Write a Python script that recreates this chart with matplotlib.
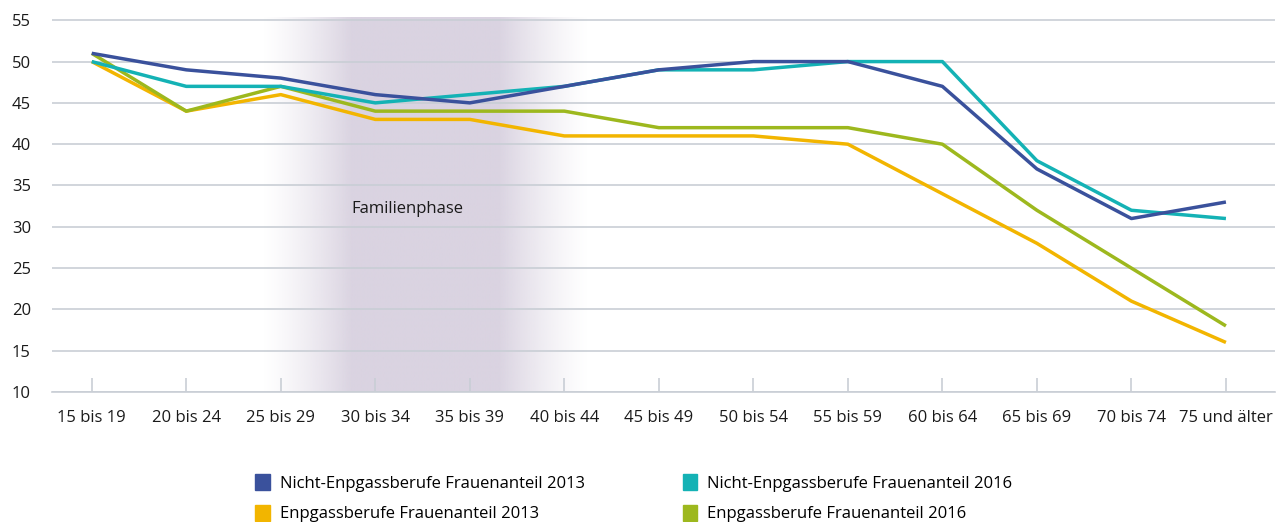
import numpy as np
import matplotlib
matplotlib.use("Agg")
import matplotlib.pyplot as plt
from matplotlib.colors import to_rgb
from matplotlib.patches import Patch

plt.rcParams['font.family'] = ['Open Sans', 'DejaVu Sans']

# data
kategorien = ["15 bis 19", "20 bis 24", "25 bis 29", "30 bis 34", "35 bis 39", "40 bis 44",
              "45 bis 49", "50 bis 54", "55 bis 59", "60 bis 64", "65 bis 69", "70 bis 74",
              "75 und älter"]
nicht_2013 = [51, 49, 48, 46, 45, 47, 49, 50, 50, 47, 37, 31, 33]
nicht_2016 = [50, 47, 47, 45, 46, 47, 49, 49, 50, 50, 38, 32, 31]
enp_2013 = [50, 44, 46, 43, 43, 41, 41, 41, 40, 34, 28, 21, 16]
enp_2016 = [51, 44, 47, 44, 44, 44, 42, 42, 42, 40, 32, 25, 18]
y_ticks = [10, 15, 20, 25, 30, 35, 40, 45, 50, 55]

c_blau = "#3A519C"
c_tuerkis = "#14B2B5"
c_gelb = "#F2B500"
c_gruen = "#9DB81E"
c_grid = "#C9CED5"

fig = plt.figure(figsize=(12.82, 5.22), dpi=100)
ax = fig.add_axes([0.0406, 0.249, 0.954, 0.7185])

x = np.arange(len(kategorien))

# Familienphase shading (gradient)
xs = np.linspace(1.8, 5.25, 400)
alpha = np.clip(np.minimum((xs - 1.8) / 0.95, (5.25 - xs) / 0.95), 0, 1)
alpha = alpha ** 1.3
img = np.zeros((1, len(xs), 4))
img[0, :, :3] = to_rgb("#DAD3E1")
img[0, :, 3] = alpha
ax.imshow(img, extent=[1.8, 5.25, 10, 55.4], aspect='auto', zorder=0, interpolation='bilinear')
ax.text(3.34, 32.1, "Familienphase", ha='center', va='center', fontsize=12, color="#1a1a1a")

l1, = ax.plot(x, nicht_2013, color=c_blau, lw=2.5, zorder=5, solid_capstyle='butt')
l2, = ax.plot(x, nicht_2016, color=c_tuerkis, lw=2.5, zorder=4, solid_capstyle='butt')
l3, = ax.plot(x, enp_2013, color=c_gelb, lw=2.5, zorder=3, solid_capstyle='butt')
l4, = ax.plot(x, enp_2016, color=c_gruen, lw=2.5, zorder=3.5, solid_capstyle='butt')

ax.set_xlim(-0.42, 12.52)
ax.set_ylim(10, 55.4)
ax.set_yticks(y_ticks)
ax.set_yticklabels([str(v) for v in y_ticks])
ax.set_xticks(x)
ax.set_xticklabels(kategorien)

ax.yaxis.grid(True, color=c_grid, lw=1.2)
ax.set_axisbelow(True)
for s in ['top', 'right', 'left']:
    ax.spines[s].set_visible(False)
ax.spines['bottom'].set_color(c_grid)
ax.spines['bottom'].set_linewidth(1.2)

ax.tick_params(axis='y', length=0, pad=29, labelsize=12, labelcolor="#1a1a1a")
for lab in ax.get_yticklabels():
    lab.set_horizontalalignment('left')
ax.tick_params(axis='x', direction='in', length=10, width=1.2, color=c_grid, pad=13,
               labelsize=12, labelcolor="#1a1a1a")

handles = [Patch(color=c_blau), Patch(color=c_gelb), Patch(color=c_tuerkis), Patch(color=c_gruen)]
labels = ["Nicht-Enpgassberufe Frauenanteil 2013", "Enpgassberufe Frauenanteil 2013",
          "Nicht-Enpgassberufe Frauenanteil 2016", "Enpgassberufe Frauenanteil 2016"]
fig.legend(handles, labels, ncol=2, loc='upper left', bbox_to_anchor=(0.194, 0.104),
           frameon=False, fontsize=12, handlelength=0.85, handleheight=1.1,
           columnspacing=5.9, labelspacing=0.75, handletextpad=0.6, borderaxespad=0)

fig.savefig("out.png", dpi=100)
